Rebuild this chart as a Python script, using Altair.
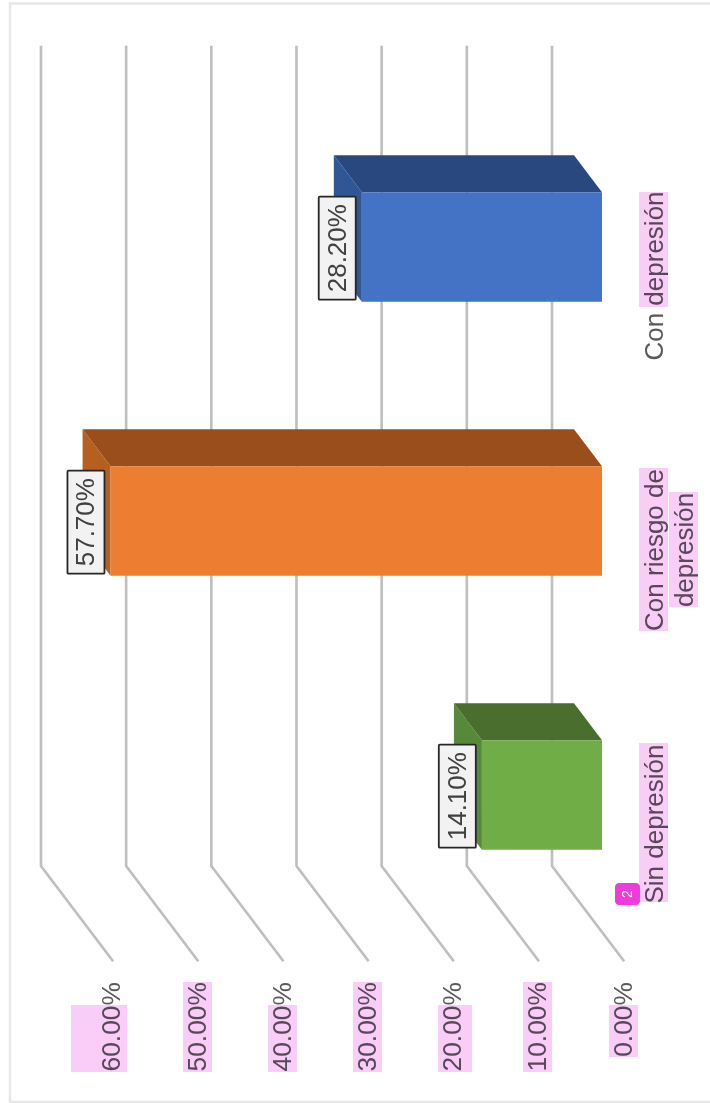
import altair as alt
import pandas as pd

# Chart values
categories = ["Con depresión", "Con riesgo de depresión", "Sin depresión"]
category_lines = [["Con depresión"], ["Con riesgo de", "depresión"], ["Sin depresión"]]
percentages = [28.2, 57.7, 14.1]
ticks = [0, 10, 20, 30, 40, 50, 60]
front_colors = ["#4472C4", "#ED7D31", "#70AD47"]
top_colors = ["#2A4880", "#9A4E1C", "#4A6E2D"]
side_colors = ["#305696", "#B5601F", "#578A38"]

# Oblique projection: one depth unit moves a point up and to the left
WIDTH, HEIGHT = 710, 1103
PX_PER_PCT = 8.517
PX_PER_CAT = 274
X0_PX, Y0_PX = 602, 247
DEPTH_DX = 28 / PX_PER_PCT
DEPTH_DY = 37 / PX_PER_CAT
BAR_HALF = 0.2
WALL_DEPTH = 1.786
FLOOR_FRONT_DEPTH = -0.79
BAND_TOP, BAND_BOTTOM = -0.493, 2.5

x_scale = alt.Scale(
    domain=[X0_PX / PX_PER_PCT, (X0_PX - WIDTH) / PX_PER_PCT],
    range=[0, WIDTH],
)
y_scale = alt.Scale(
    domain=[-Y0_PX / PX_PER_CAT, (HEIGHT - Y0_PX) / PX_PER_CAT],
    range=[0, HEIGHT],
)


def sx(value, depth=0.0):
    return value + depth * DEPTH_DX


def sy(cat, depth=0.0):
    return cat - depth * DEPTH_DY


X = lambda f: alt.X(f"{f}:Q", scale=x_scale, axis=None)
Y = lambda f: alt.Y(f"{f}:Q", scale=y_scale, axis=None)
X2 = lambda f: alt.X2(f"{f}:Q")
Y2 = lambda f: alt.Y2(f"{f}:Q")

# Gridlines: up the back wall, then forward across the floor
grid_rows = []
for t in ticks:
    grid_rows += [
        {"tick": t, "step": 0, "x": sx(t, WALL_DEPTH), "y": sy(BAND_TOP, WALL_DEPTH)},
        {"tick": t, "step": 1, "x": sx(t, WALL_DEPTH), "y": sy(BAND_BOTTOM, WALL_DEPTH)},
        {"tick": t, "step": 2, "x": sx(t, FLOOR_FRONT_DEPTH), "y": sy(BAND_BOTTOM, FLOOR_FRONT_DEPTH)},
    ]
grid = (
    alt.Chart(pd.DataFrame(grid_rows))
    .mark_line(color="#BEBEBE", strokeWidth=2.6, strokeJoin="round")
    .encode(x=X("x"), y=Y("y"), detail="tick:N", order="step:Q")
)

# Box faces
front_rows, top_rows, side_rows = [], [], []
for i, (cat, v) in enumerate(zip(categories, percentages)):
    front_rows.append({
        "cat": cat, "x": sx(0), "x2": sx(v),
        "y": sy(i - BAR_HALF), "y2": sy(i + BAR_HALF), "c": front_colors[i],
    })
    for d in (1.0, 0.0):
        top_rows.append({
            "cat": cat, "x": sx(0, d), "x2": sx(v, d),
            "y": sy(i - BAR_HALF, d), "c": top_colors[i],
        })
        side_rows.append({
            "cat": cat, "x": sx(v, d),
            "y": sy(i - BAR_HALF, d), "y2": sy(i + BAR_HALF, d), "c": side_colors[i],
        })

color = alt.Color("c:N", scale=None)
side = (
    alt.Chart(pd.DataFrame(side_rows))
    .mark_area(orient="vertical")
    .encode(x=X("x"), y=Y("y"), y2=Y2("y2"), detail="cat:N", color=color)
)
top = (
    alt.Chart(pd.DataFrame(top_rows))
    .mark_area(orient="horizontal")
    .encode(y=Y("y"), x=X("x"), x2=X2("x2"), detail="cat:N", color=color)
)
front = (
    alt.Chart(pd.DataFrame(front_rows))
    .mark_rect()
    .encode(x=X("x"), x2=X2("x2"), y=Y("y"), y2=Y2("y2"), color=color)
)

# Value labels in boxes beside each bar
LABEL_GAP = 24.6 / PX_PER_PCT
BOX_HALF_X = 18.5 / PX_PER_PCT
BOX_HALF_Y = 51.5 / PX_PER_CAT
LABEL_CENTER_SHIFT = 1.2 / PX_PER_CAT
label_rows = [
    {
        "x": v + LABEL_GAP,
        "x1": v + LABEL_GAP - BOX_HALF_X,
        "x2": v + LABEL_GAP + BOX_HALF_X,
        "y": i + LABEL_CENTER_SHIFT,
        "y1": i + LABEL_CENTER_SHIFT - BOX_HALF_Y,
        "y2": i + LABEL_CENTER_SHIFT + BOX_HALF_Y,
        "text_x": v + LABEL_GAP - 8.5 / PX_PER_PCT,
        "label": f"{v:.2f}%",
    }
    for i, v in enumerate(percentages)
]
labels_df = pd.DataFrame(label_rows)
label_boxes = (
    alt.Chart(labels_df)
    .mark_rect(fill="#F2F2F2", stroke="#262626", strokeWidth=1.8, cornerRadius=1)
    .encode(x=X("x1"), x2=X2("x2"), y=Y("y1"), y2=Y2("y2"))
)
FONT = "Liberation Sans"
label_text = (
    alt.Chart(labels_df)
    .mark_text(angle=270, align="center", baseline="alphabetic", font=FONT, fontSize=26, color="#404040")
    .encode(x=X("text_x"), y=Y("y"), text="label:N")
)

# Axis tick labels, right-aligned against a common line
TICK_LABEL_X_SHIFT = -29.5 / PX_PER_PCT
TICK_LABEL_CAT = (982 - Y0_PX) / PX_PER_CAT
tick_df = pd.DataFrame(
    [{"x": t + TICK_LABEL_X_SHIFT, "y": TICK_LABEL_CAT, "label": f"{t:.2f}%"} for t in ticks]
)
tick_text = (
    alt.Chart(tick_df)
    .mark_text(angle=270, align="right", baseline="alphabetic", font=FONT, fontSize=26.4, color="#595959")
    .encode(x=X("x"), y=Y("y"), text="label:N")
)

# Category labels, wrapped on up to two lines
CAT_LABEL_SHIFT = 29 / PX_PER_CAT
LINE_STEP = 30 / PX_PER_PCT
CAT_BASE = -60.5 / PX_PER_PCT
cat_rows = []
for i, lines in enumerate(category_lines):
    for j, line in enumerate(lines):
        cat_rows.append({"x": CAT_BASE - j * LINE_STEP, "y": i + CAT_LABEL_SHIFT, "label": line})
cat_text = (
    alt.Chart(pd.DataFrame(cat_rows))
    .mark_text(angle=270, align="center", baseline="alphabetic", font=FONT, fontSize=26, color="#595959")
    .encode(x=X("x"), y=Y("y"), text="label:N")
)

# Highlighter boxes laid over the text, in page pixels
highlight_boxes = [
    (71, 127, 1005, 1072), (183, 212, 982, 1072), (268, 297, 1005, 1072),
    (353, 382, 982, 1072), (438, 472, 1005, 1072), (523, 552, 982, 1072),
    (609, 638, 1005, 1057), (639, 668, 743, 902), (639, 668, 468, 631),
    (669, 698, 492, 607), (639, 668, 192, 307),
]
hl_df = pd.DataFrame(highlight_boxes, columns=["x", "x2", "y", "y2"])
highlights = (
    alt.Chart(hl_df)
    .mark_rect(fill="#F9CDF8", blend="multiply")
    .encode(
        x=alt.X("x:Q", scale=None, axis=None),
        x2="x2:Q",
        y=alt.Y("y:Q", scale=None, axis=None),
        y2="y2:Q",
    )
)

# Annotation counter badge
badge = alt.Chart(pd.DataFrame({"n": [2]})).mark_rect(fill="#EE3BDC", cornerRadius=4).encode(
    x=alt.value(615), x2=alt.value(640), y=alt.value(883), y2=alt.value(905)
)
badge_text = alt.Chart(pd.DataFrame({"n": ["2"]})).mark_text(
    angle=270, align="center", baseline="middle", font=FONT, fontSize=14, color="white"
).encode(x=alt.value(627.5), y=alt.value(894), text="n:N")

# Outer frame, its right side running past the page edge
frame = alt.Chart(pd.DataFrame({"n": [1]})).mark_rect(fill="white", stroke="#E8E8E8", strokeWidth=2.6).encode(
    x=alt.value(10), x2=alt.value(760), y=alt.value(3.5), y2=alt.value(1102)
)

chart = (
    alt.layer(
        frame, grid, side, top, front, label_boxes, label_text,
        tick_text, cat_text, highlights, badge, badge_text,
    )
    .properties(
        width=WIDTH, height=HEIGHT, padding=0,
        autosize=alt.AutoSizeParams(type="none"),
        background="white",
    )
    .configure_view(stroke=None)
)

chart.save("out.html", embed_options={"renderer": "svg", "actions": False})
